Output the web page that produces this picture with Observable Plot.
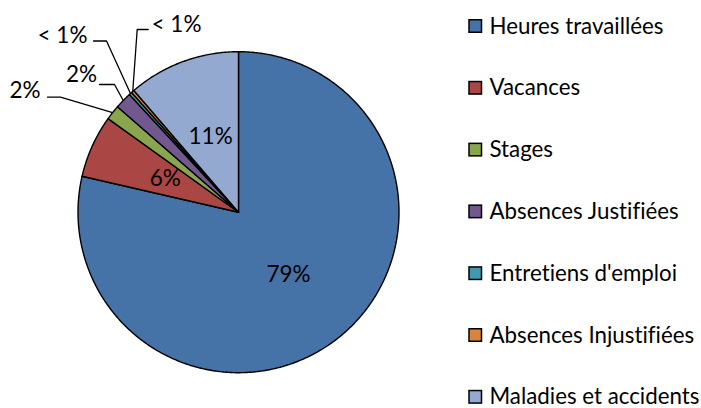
<!DOCTYPE html>
<html><head><meta charset="utf-8">
<script src="https://cdn.jsdelivr.net/npm/d3@7"></script>
<script src="https://cdn.jsdelivr.net/npm/@observablehq/plot@0.6"></script>
<style>
body{margin:0;background:#fff;overflow:hidden}
svg text{font-variant-ligatures:none;font-feature-settings:"liga" 0,"clig" 0,"dlig" 0;}
</style>
</head><body><div id="chart"></div>
<script>
// ---- data ----
const categories = ["Heures travaillées","Vacances","Stages","Absences Justifiées","Entretiens d'emploi","Absences Injustifiées","Maladies et accidents"];
const values = [78.6, 6.3, 1.5, 1.7, 0.3, 0.3, 11.3];
const labels = ["79%","6%","2%","2%","< 1%","< 1%","11%"];
const colors = ["#4572A7","#AA4643","#89A54E","#71588F","#4198AF","#DB843D","#93A9CF"];

// ---- layout ----
const W = 701, H = 408, CX = 238, CY = 211.7, R = 160.5;
const FONT = "Lato, 'Open Sans', sans-serif", FS = 22.5, LFS = 22.3;
const insideR = 0.5;
// outside labels: text center and horizontal leader segment
const outsideLayout = {
  2: {tx: 24.5, ty: 90.5, x0: 47, x1: 60, y: 96.7},
  3: {tx: 81, ty: 74.5, x0: 99, x1: 114, y: 84},
  4: {tx: 62, ty: 35.5, x0: 93, x1: 106, y: 40.5},
  5: {tx: 176, ty: 24, x0: 147.7, x1: 136.7, y: 29}
};
const legendX = 469, legendTextX = 489, legendY0 = 26, legendStep = 61.8, sq = 12.5;

// ---- derived ----
const total = d3.sum(values);
const slices = [];
let acc = 0;
values.forEach((v, i) => {
  const a0 = acc / total * 2 * Math.PI;
  acc += v;
  const a1 = acc / total * 2 * Math.PI;
  slices.push({cat: categories[i], label: labels[i], a0, a1, mid: (a0 + a1) / 2, i});
});
const px = (a, r) => CX + r * Math.sin(a);
const py = (a, r) => CY - r * Math.cos(a);

const polyPts = [];
for (const s of slices) {
  polyPts.push({cat: s.cat, x: CX, y: CY});
  const n = Math.max(2, Math.ceil((s.a1 - s.a0) / (Math.PI / 360)));
  for (let k = 0; k <= n; k++) {
    const a = s.a0 + (s.a1 - s.a0) * k / n;
    polyPts.push({cat: s.cat, x: px(a, R), y: py(a, R)});
  }
  polyPts.push({cat: s.cat, x: CX, y: CY});
}

const insideLabels = slices.filter(s => !(s.i in outsideLayout))
  .map(s => ({label: s.label, x: px(s.mid, R * insideR), y: py(s.mid, R * insideR)}));
const outsideLabels = slices.filter(s => s.i in outsideLayout)
  .map(s => ({label: s.label, x: outsideLayout[s.i].tx, y: outsideLayout[s.i].ty}));
const leaderPts = [];
for (const s of slices) {
  const o = outsideLayout[s.i];
  if (!o) continue;
  leaderPts.push({k: s.i, x: o.x0, y: o.y});
  leaderPts.push({k: s.i, x: o.x1, y: o.y});
  leaderPts.push({k: s.i, x: px(s.mid, R), y: py(s.mid, R)});
}
const legend = categories.map((c, i) => ({cat: c, y: legendY0 + i * legendStep}));

const chart = Plot.plot({
  width: W, height: H,
  margin: 0,
  x: {type: "identity", axis: null},
  y: {type: "identity", axis: null},
  color: {domain: categories, range: colors},
  style: {fontFamily: FONT, background: "#fff"},
  marks: [
    Plot.line(polyPts, {x: "x", y: "y", z: "cat", fill: "cat", stroke: "#000", strokeWidth: 1.4, strokeLinejoin: "round", curve: "linear"}),
    Plot.text(insideLabels, {x: "x", y: "y", text: "label", fontSize: FS, fill: "#000", fontFamily: FONT}),
    Plot.line(leaderPts, {x: "x", y: "y", z: "k", stroke: "#000", strokeWidth: 1.3}),
    Plot.text(outsideLabels, {x: "x", y: "y", text: "label", fontSize: FS, fill: "#000", fontFamily: FONT}),
    Plot.rect(legend, {x1: legendX, x2: legendX + sq, y1: d => d.y - sq / 2, y2: d => d.y + sq / 2, fill: "cat", stroke: "#000", strokeWidth: 1.5}),
    Plot.text(legend, {x: legendTextX, y: "y", text: "cat", textAnchor: "start", fontSize: LFS, fill: "#000", fontFamily: FONT})
  ]
});
document.getElementById("chart").appendChild(chart);
</script>
</body></html>
